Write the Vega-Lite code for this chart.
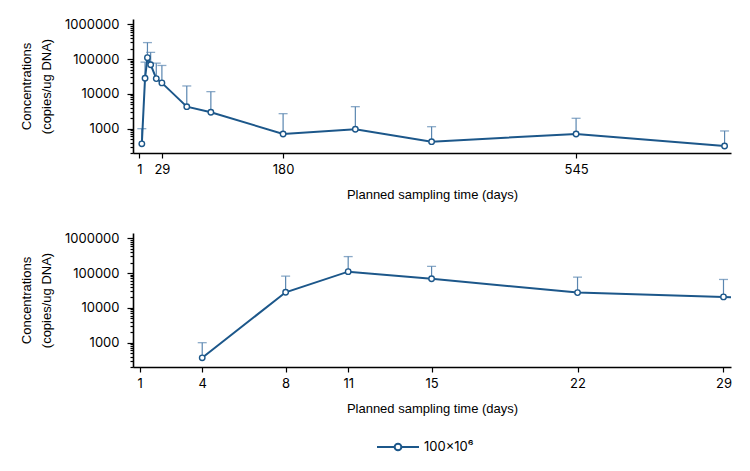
{
  "$schema": "https://vega.github.io/schema/vega-lite/v6.json",
  "padding": {"left": 20, "top": 18, "right": 5, "bottom": 5},
  "datasets": {
    "conc": [
      {"day": 4, "mean": 367, "upper": 1000, "series": "100×10⁶"},
      {"day": 8, "mean": 28100, "upper": 81800, "series": "100×10⁶"},
      {"day": 11, "mean": 110000, "upper": 298000, "series": "100×10⁶"},
      {"day": 15, "mean": 68900, "upper": 156000, "series": "100×10⁶"},
      {"day": 22, "mean": 27500, "upper": 76500, "series": "100×10⁶"},
      {"day": 29, "mean": 20700, "upper": 65600, "series": "100×10⁶"},
      {"day": 60, "mean": 4290, "upper": 16900, "series": "100×10⁶"},
      {"day": 90, "mean": 2960, "upper": 11600, "series": "100×10⁶"},
      {"day": 180, "mean": 705, "upper": 2700, "series": "100×10⁶"},
      {"day": 270, "mean": 960, "upper": 4290, "series": "100×10⁶"},
      {"day": 365, "mean": 423, "upper": 1140, "series": "100×10⁶"},
      {"day": 545, "mean": 705, "upper": 1990, "series": "100×10⁶"},
      {"day": 730, "mean": 318, "upper": 860, "series": "100×10⁶"}
    ]
  },
  "spacing": 31,
  "vconcat": [
    {
      "data": {"name": "conc"},
      "width": 598,
      "height": 134,
      "encoding": {
        "x": {
          "field": "day", "type": "quantitative",
          "scale": {"domain": [-7, 738], "nice": false, "zero": false},
          "axis": {"values": [1, 29, 180, 545], "title": "Planned sampling time (days)"}
        },
        "y": {
          "field": "mean", "type": "quantitative",
          "scale": {"type": "log", "domain": [200, 1420000], "nice": false},
          "axis": {
            "title": ["Concentrations", "(copies/ug DNA)"],
            "values": [200, 300, 400, 500, 600, 700, 800, 900, 1000, 2000, 3000, 4000, 5000, 6000, 7000, 8000, 9000, 10000, 20000, 30000, 40000, 50000, 60000, 70000, 80000, 90000, 100000, 200000, 300000, 400000, 500000, 600000, 700000, 800000, 900000, 1000000],
            "labelExpr": "indexof([1000, 10000, 100000, 1000000], datum.value) >= 0 ? format(datum.value, 'd') : ''",
            "tickSize": {"condition": {"test": "indexof([1000, 10000, 100000, 1000000], datum.value) >= 0", "value": 6}, "value": 3}
          }
        }
      },
      "layer": [
        {
          "mark": {"type": "rule", "color": "#5a86b0", "strokeWidth": 1.2, "clip": true},
          "encoding": {"y2": {"field": "upper"}}
        },
        {
          "mark": {"type": "tick", "orient": "horizontal", "size": 9, "thickness": 1.3, "color": "#5a86b0", "clip": true},
          "encoding": {"y": {"field": "upper", "type": "quantitative"}}
        },
        {
          "mark": {"type": "line", "strokeWidth": 2, "clip": true},
          "encoding": {
            "color": {
              "field": "series", "type": "nominal",
              "scale": {"range": ["#1c578a"]},
              "legend": {
                "title": null,
                "orient": "none",
                "legendX": 243,
                "legendY": 406,
                "symbolType": "M-1,0H-0.16M0.16,0H1M-0.16,0A0.16,0.16 0 1,1 0.16,0A0.16,0.16 0 1,1 -0.16,0Z",
                "symbolSize": 1764,
                "symbolStrokeWidth": 2,
                "labelFontSize": 13,
                "labelFont": "Inter"
              }
            }
          }
        },
        {
          "mark": {"type": "point", "shape": "circle", "filled": false, "fill": "white", "stroke": "#1c578a", "strokeWidth": 1.4, "size": 30, "opacity": 1, "clip": true},
          "encoding": {}
        }
      ]
    },
    {
      "data": {"name": "conc"},
      "width": 598,
      "height": 134,
      "encoding": {
        "x": {
          "field": "day", "type": "quantitative",
          "scale": {"domain": [0.68, 29.36], "nice": false, "zero": false},
          "axis": {"values": [1, 4, 8, 11, 15, 22, 29], "title": "Planned sampling time (days)"}
        },
        "y": {
          "field": "mean", "type": "quantitative",
          "scale": {"type": "log", "domain": [200, 1420000], "nice": false},
          "axis": {
            "title": ["Concentrations", "(copies/ug DNA)"],
            "values": [200, 300, 400, 500, 600, 700, 800, 900, 1000, 2000, 3000, 4000, 5000, 6000, 7000, 8000, 9000, 10000, 20000, 30000, 40000, 50000, 60000, 70000, 80000, 90000, 100000, 200000, 300000, 400000, 500000, 600000, 700000, 800000, 900000, 1000000],
            "labelExpr": "indexof([1000, 10000, 100000, 1000000], datum.value) >= 0 ? format(datum.value, 'd') : ''",
            "tickSize": {"condition": {"test": "indexof([1000, 10000, 100000, 1000000], datum.value) >= 0", "value": 6}, "value": 3}
          }
        }
      },
      "layer": [
        {
          "mark": {"type": "rule", "color": "#5a86b0", "strokeWidth": 1.2, "clip": true},
          "encoding": {"y2": {"field": "upper"}}
        },
        {
          "mark": {"type": "tick", "orient": "horizontal", "size": 9, "thickness": 1.3, "color": "#5a86b0", "clip": true},
          "encoding": {"y": {"field": "upper", "type": "quantitative"}}
        },
        {
          "mark": {"type": "line", "strokeWidth": 2, "clip": true},
          "encoding": {"color": {"field": "series", "type": "nominal", "scale": {"range": ["#1c578a"]}}}
        },
        {
          "mark": {"type": "point", "shape": "circle", "filled": false, "fill": "white", "stroke": "#1c578a", "strokeWidth": 1.4, "size": 30, "opacity": 1, "clip": true},
          "encoding": {}
        }
      ]
    }
  ],
  "config": {
    "view": {"stroke": null},
    "axis": {
      "grid": false,
      "domainColor": "black",
      "domainWidth": 1.6,
      "tickColor": "black",
      "tickWidth": 1.2,
      "labelFont": "Inter",
      "labelFontSize": 13,
      "labelColor": "black",
      "titleFont": "Liberation Sans Narrow, Liberation Sans, sans-serif",
      "titleFontSize": 13,
      "titleFontWeight": "normal",
      "titleColor": "black"
    },
    "axisX": {"tickSize": 5, "labelPadding": 5, "titlePadding": 12},
    "axisY": {"labelPadding": 8, "titlePadding": 11, "titleLineHeight": 20}
  }
}
